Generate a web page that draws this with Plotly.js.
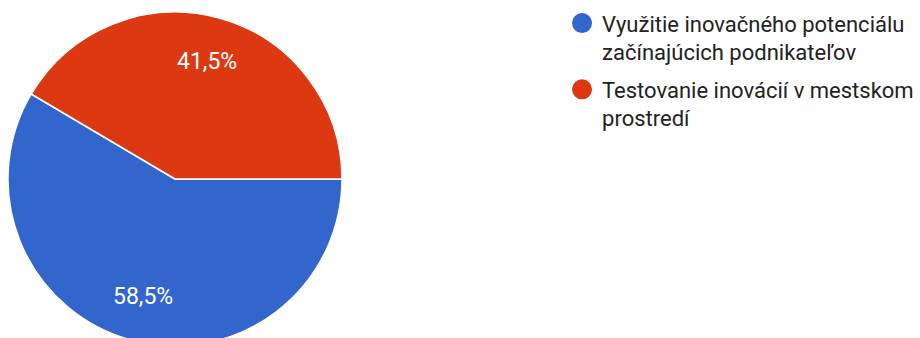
<!DOCTYPE html>
<html>
<head>
<meta charset="utf-8">
<script src="https://cdn.plot.ly/plotly-3.0.1.min.js"></script>
<style>
html,body{margin:0;padding:0;background:#fff;overflow:hidden;}
#chart{width:920px;height:346px;}
</style>
</head>
<body>
<div id="chart"></div>
<script>
const categories = [
  "Využitie inovačného potenciálu<br>začínajúcich podnikateľov",
  "Testovanie inovácií v mestskom<br>prostredí"
];
const values = [58.5, 41.5];
const colors = ["#3366cc", "#dc3912"];

const W = 920, H = 346;
const M = {l: 8, r: 0, t: 12, b: 0};
const plotW = W - M.l - M.r, plotH = H - M.t - M.b;
const pieSize = 334;
const startAngle = 90; // clock angle where the first slice starts
const labelFrac = 0.73;

const pie = {
  type: "pie",
  labels: categories,
  values: values,
  sort: false,
  direction: "clockwise",
  rotation: startAngle,
  marker: {colors: colors, line: {color: "#ffffff", width: 1.5}},
  textinfo: "none",
  showlegend: false,
  hoverinfo: "none",
  domain: {x: [0, pieSize / plotW], y: [0, 1]}
};

const legendTraces = categories.map((c, i) => ({
  type: "scatter",
  mode: "markers",
  x: [null], y: [null],
  name: c,
  legendgroup: "g" + i,
  marker: {color: colors[i], size: 16, symbol: "circle", line: {color: colors[i], width: 4}},
  showlegend: true,
  hoverinfo: "none"
}));

// percentage labels placed along each slice's bisector
const total = values.reduce((a, b) => a + b, 0);
const radius = pieSize / 2;
let cum = 0;
const annotations = values.map((v, i) => {
  const midFrac = (cum + v / 2) / total;
  cum += v;
  const ang = (startAngle + 360 * midFrac) * Math.PI / 180;
  const d = labelFrac * radius;
  return {
    xref: "paper", yref: "paper",
    x: (pieSize / 2) / plotW, y: 0.5,
    xshift: d * Math.sin(ang), yshift: d * Math.cos(ang),
    text: (100 * v / total).toFixed(1).replace(".", ",") + "%",
    showarrow: false,
    xanchor: "center", yanchor: "middle",
    font: {family: "Roboto, Arial, sans-serif", size: 23, color: "#ffffff"}
  };
});

const layout = {
  width: W, height: H,
  margin: M,
  separators: ", ",
  paper_bgcolor: "#ffffff",
  plot_bgcolor: "#ffffff",
  xaxis: {visible: false, domain: [0.6, 0.61]},
  yaxis: {visible: false},
  showlegend: true,
  annotations: annotations,
  legend: {
    x: 0.6075, y: 1.029, xanchor: "left", yanchor: "top",
    font: {family: "Roboto, Arial, sans-serif", size: 22, color: "#222222"},
    itemsizing: "trace",
    valign: "top",
    traceorder: "grouped",
    tracegroupgap: 6,
    bgcolor: "rgba(0,0,0,0)"
  }
};

Plotly.newPlot("chart", [pie].concat(legendTraces), layout, {displayModeBar: false, staticPlot: true});
</script>
</body>
</html>
